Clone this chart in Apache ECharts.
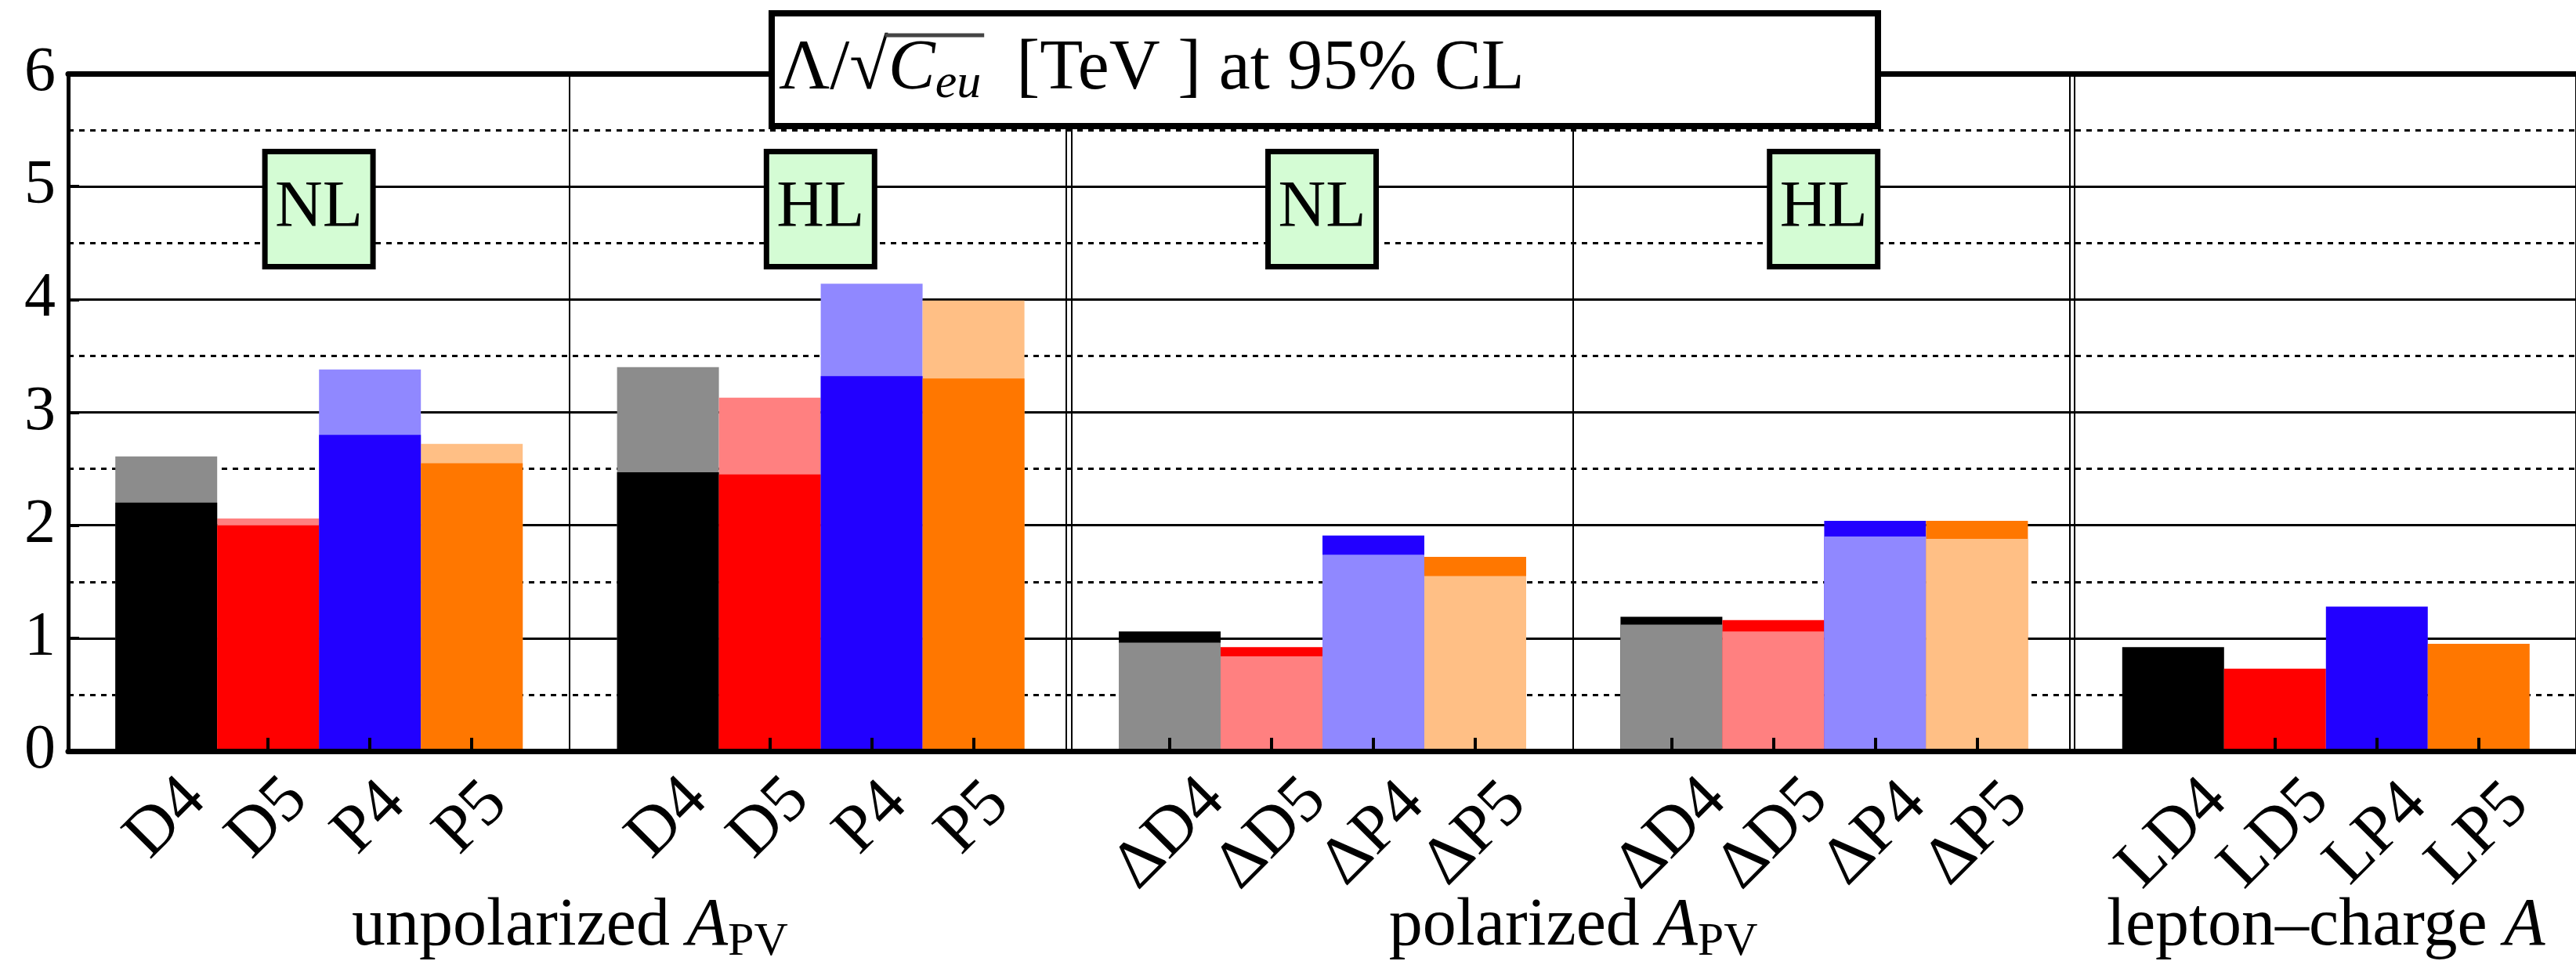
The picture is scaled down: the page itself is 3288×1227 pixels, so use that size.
<!DOCTYPE html>
<html><head><meta charset="utf-8">
<script src="https://cdn.jsdelivr.net/npm/echarts@6/dist/echarts.min.js"></script>
<style>html,body{margin:0;padding:0;background:#fff}#c{width:3288px;height:1227px}</style>
</head><body><div id="c"></div>
<script>
// ---- data ----
const unpolLabels = ['D4', 'D5', 'P4', 'P5'];
const polLabels = ['ΔD4', 'ΔD5', 'ΔP4', 'ΔP5'];
const lepLabels = ['LD4', 'LD5', 'LP4', 'LP5'];
const panelNotes = ['NL', 'HL', 'NL', 'HL', ''];
const groupNames = ['unpolarized', 'polarized', 'lepton–charge'];
const groupSymbols = ['A', 'A', 'A'];
const groupSubs = ['PV', 'PV', ''];
const yMin = 0, yMax = 6, yStep = 1;

const unpolNL_dark = [2.20, 2.00, 2.80, 2.55];
const unpolNL_light = [2.61, 2.06, 3.38, 2.72];
const unpolHL_dark = [2.47, 2.45, 3.32, 3.30];
const unpolHL_light = [3.40, 3.13, 4.14, 3.99];
const polNL_dark = [1.06, 0.92, 1.91, 1.72];
const polNL_light = [0.96, 0.84, 1.74, 1.55];
const polHL_dark = [1.19, 1.16, 2.04, 2.04];
const polHL_light = [1.12, 1.06, 1.90, 1.88];
const lepton_dark = [0.92, 0.73, 1.28, 0.95];

// ---- styles / layout ----
const darkColors = ['#000000', '#ff0000', '#2200ff', '#ff7700'];
const lightColors = ['#8c8c8c', '#ff8080', '#9088ff', '#ffbf85'];
const FONT = 'Liberation Serif';
const FL = 87, FT = 94, FH = 865;
const PW = 640.4, BW = 130;
const PAD = (PW - 4 * BW) / 2;

const panels = [
  { labels: unpolLabels, dark: unpolNL_dark, light: unpolNL_light },
  { labels: unpolLabels, dark: unpolHL_dark, light: unpolHL_light },
  { labels: polLabels, dark: polNL_dark, light: polNL_light },
  { labels: polLabels, dark: polHL_dark, light: polHL_light },
  { labels: lepLabels, dark: lepton_dark, light: null }
];

const grid = [{ left: FL, top: FT, width: 5 * PW, height: FH }];
const xAxis = [
  { gridIndex: 0, type: 'value', min: 0, max: 5, interval: 1, position: 'bottom', z: 5,
    axisLine: { show: true, onZero: false, lineStyle: { color: '#000', width: 7 } },
    axisTick: { show: false }, axisLabel: { show: false },
    splitLine: { show: true, lineStyle: { color: '#000', width: 2 } } },
  { gridIndex: 0, type: 'value', min: 0, max: 5, interval: 1, position: 'top', z: 5,
    axisLine: { show: true, onZero: false, lineStyle: { color: '#000', width: 7 } },
    axisTick: { show: false }, axisLabel: { show: false }, splitLine: { show: false } }
];
const yAxis = [
  { gridIndex: 0, type: 'value', min: yMin, max: yMax, interval: yStep,
    axisLine: { show: true, onZero: false, lineStyle: { color: '#000', width: 5 } },
    axisTick: { show: true, inside: true, length: 14, lineStyle: { color: '#000', width: 4 } },
    axisLabel: { fontSize: 80, fontFamily: FONT, color: '#000', margin: 16, padding: [16, 0, 0, 0] },
    splitLine: { show: true, lineStyle: { color: '#000', width: 3 } },
    minorTick: { show: false, splitNumber: 2 },
    minorSplitLine: { show: true, lineStyle: { color: '#000', width: 3, type: [7, 7] } } }
];
const series = [];

panels.forEach((p, k) => {
  grid.push({ left: FL + k * PW + PAD, top: FT, width: 4 * BW, height: FH });
  const gi = grid.length - 1;
  const longLab = p.labels[0].length > 2;
  xAxis.push({ gridIndex: gi, type: 'category', data: p.labels.slice(), boundaryGap: true, z: 6,
    axisLine: { show: false },
    axisTick: { show: true, inside: true, alignWithLabel: true, length: 17, lineStyle: { color: '#000', width: 4 } },
    axisLabel: { interval: 0, rotate: 45, align: 'center', verticalAlign: 'middle',
      margin: longLab ? 106 : 86, fontSize: 86, fontFamily: FONT, color: '#000' },
    splitLine: { show: false } });
  yAxis.push({ gridIndex: gi, type: 'value', min: yMin, max: yMax, show: false });
  const xi = xAxis.length - 1, yi = yAxis.length - 1;
  const back = [], front = [];
  p.dark.forEach((d, i) => {
    if (p.light) {
      const l = p.light[i];
      if (l >= d) {
        back.push({ value: l, itemStyle: { color: lightColors[i] } });
        front.push({ value: d, itemStyle: { color: darkColors[i] } });
      } else {
        back.push({ value: d, itemStyle: { color: darkColors[i] } });
        front.push({ value: l, itemStyle: { color: lightColors[i] } });
      }
    } else {
      back.push({ value: d, itemStyle: { color: darkColors[i] } });
    }
  });
  series.push({ type: 'bar', xAxisIndex: xi, yAxisIndex: yi, data: back, barCategoryGap: '0%', barGap: '-100%', silent: true });
  if (p.light) series.push({ type: 'bar', xAxisIndex: xi, yAxisIndex: yi, data: front, barCategoryGap: '0%', barGap: '-100%', silent: true });
});

const halfBox = 69 / PW;
series.push({
  type: 'line', xAxisIndex: 0, yAxisIndex: 0, data: [], silent: true,
  markArea: {
    silent: true,
    itemStyle: { color: '#d4fcd4', borderColor: '#000', borderWidth: 7 },
    label: { show: true, position: 'inside', fontSize: 84, fontWeight: 'normal', fontFamily: FONT, color: '#000', padding: [10, 0, 0, 0] },
    data: panelNotes.map((n, k) => n ? [{ name: n, coord: [k + 0.5 - halfBox, 4.29] }, { coord: [k + 0.5 + halfBox, 5.31] }] : null).filter(Boolean)
  },
  markLine: {
    silent: true, symbol: 'none', label: { show: false },
    lineStyle: { color: '#000', width: 2, type: 'solid' },
    data: [{ xAxis: 2 - 6 / PW }, { xAxis: 4 - 6 / PW }]
  }
});

const TS = 90, SS = 62;
const richBase = {
  r: { fontSize: TS, fontFamily: FONT, fontWeight: 'normal', color: '#000', lineHeight: 100 },
  i: { fontSize: TS, fontFamily: FONT, fontWeight: 'normal', color: '#000', fontStyle: 'italic', lineHeight: 100 },
  s: { fontSize: SS, fontFamily: FONT, fontWeight: 'normal', color: '#000', fontStyle: 'italic', lineHeight: 60, verticalAlign: 'bottom' },
  u: { fontSize: 60, fontFamily: FONT, fontWeight: 'normal', color: '#000', lineHeight: 60, verticalAlign: 'bottom' }
};
const gStyle = {
  r: Object.assign({}, richBase.r, { fontSize: 86 }),
  i: Object.assign({}, richBase.i, { fontSize: 86 }),
  u: richBase.u
};
const groupCenters = [FL + PW * 1, FL + PW * 3, FL + PW * 4.5];
const TX = 985, TY = 17, TPL = 9;
const title = [{
  text: '{r|Λ/√}{i|C}{s|eu}{r|  [TeV ] at 95% CL}',
  left: TX, top: TY, padding: [22, 452, 22, TPL], z: 10,
  borderWidth: 8, borderColor: '#000', backgroundColor: '#fff',
  textStyle: { fontSize: TS, fontWeight: 'normal', fontFamily: FONT, color: '#000', lineHeight: 100, rich: richBase }
}];
groupNames.forEach((g, k) => {
  title.push({
    text: '{r|' + g + ' }{i|' + groupSymbols[k] + '}' + (groupSubs[k] ? '{u|' + groupSubs[k] + '}' : ''),
    left: groupCenters[k], top: 1133, textAlign: 'center', padding: 0,
    textStyle: { fontSize: 86, fontWeight: 'normal', fontFamily: FONT, color: '#000', lineHeight: 100, rich: gStyle }
  });
});

// radical overline over C_eu (measured from the rendered font)
const mctx = document.createElement('canvas').getContext('2d');
mctx.font = TS + 'px "' + FONT + '"';
const wRad = mctx.measureText('Λ/√').width;
mctx.font = 'italic ' + TS + 'px "' + FONT + '"';
const wC = mctx.measureText('C').width;
mctx.font = 'italic ' + SS + 'px "' + FONT + '"';
const wEu = mctx.measureText('eu').width;
const ox = TX + TPL + wRad;
const graphic = [{
  type: 'line', z: 20, silent: true,
  shape: { x1: ox - 4, y1: 45, x2: ox + wC + wEu + 4, y2: 45 },
  style: { stroke: '#444', lineWidth: 5 }
}];

const chart = echarts.init(document.getElementById('c'), null, { renderer: 'canvas' });
chart.setOption({ animation: false, backgroundColor: '#fff', title, grid, xAxis, yAxis, series, graphic });
</script>
</body></html>
